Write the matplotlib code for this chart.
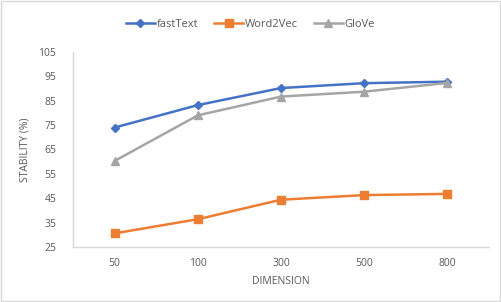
import matplotlib.pyplot as plt
from matplotlib.patches import Rectangle

dims = ["50", "100", "300", "500", "800"]
fasttext = [74, 83.2, 90.2, 92.2, 92.8]
word2vec = [30.6, 36.4, 44.4, 46.3, 46.8]
glove = [60.3, 79, 86.7, 88.7, 92.3]

txt = "#595959"
plt.rcParams['font.family'] = ['Open Sans', 'DejaVu Sans']

fig = plt.figure(figsize=(5.01, 3.02), dpi=100)
ax = fig.add_axes([0.1457, 0.182, 0.8303, 0.646])

x = range(len(dims))
ax.plot(x, fasttext, color="#4472C4", lw=1.8, marker="D", ms=4.5, label="fastText")
ax.plot(x, word2vec, color="#ED7D31", lw=1.8, marker="s", ms=6, label="Word2Vec")
ax.plot(x, glove, color="#A5A5A5", lw=1.8, marker="^", ms=6, label="GloVe")

ax.set_xlim(-0.5, len(dims) - 0.5)
ax.set_ylim(25, 105)
ax.set_yticks(range(25, 106, 10))
ax.set_xticks(list(x))
ax.set_xticklabels(dims)
ax.tick_params(length=0, labelsize=7.5, colors=txt, pad=8)
ax.tick_params(axis="y", pad=12)
for s in ["top", "right"]:
    ax.spines[s].set_visible(False)
for s in ["left", "bottom"]:
    ax.spines[s].set_color("#d9d9d9")
    ax.spines[s].set_linewidth(1)

ax.set_xlabel("DIMENSION", fontsize=7.5, color=txt, labelpad=5)
ax.set_ylabel("STABILITY (%)", fontsize=7.5, color=txt, labelpad=6)

fig.legend(loc="center", bbox_to_anchor=(0.5, 0.918), ncol=3, frameon=False,
           fontsize=8, labelcolor=txt, handlelength=2.6, handletextpad=0.2,
           columnspacing=1.4)

fig.patches.append(Rectangle((0.002, 0.003), 0.996, 0.994, transform=fig.transFigure,
                             fill=False, edgecolor="#d9d9d9", lw=1))

fig.savefig("out.png", dpi=100)
